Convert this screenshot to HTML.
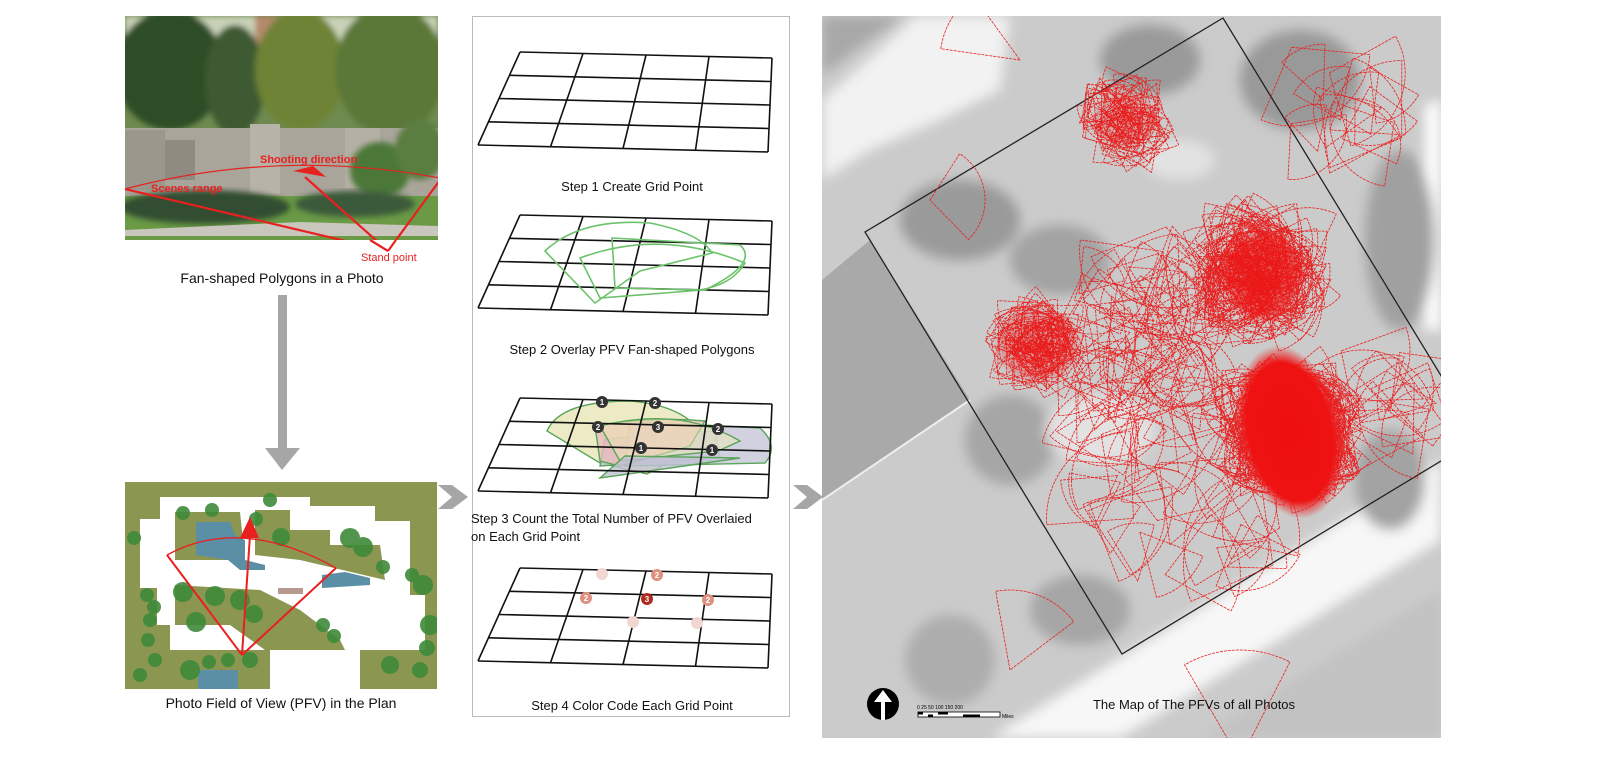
<!DOCTYPE html>
<html><head><meta charset="utf-8"><style>
html,body{margin:0;padding:0;background:#fff;}
svg{display:block;font-family:"Liberation Sans",Arial,sans-serif;}
</style></head><body>
<svg id="S" width="1600" height="780" viewBox="0 0 1600 780" xmlns="http://www.w3.org/2000/svg">
<defs>
<g id="grid" stroke="#111" stroke-width="1.6" fill="none">
<line x1="520" y1="52" x2="772" y2="58"/>
<line x1="509.5" y1="75.3" x2="771" y2="81.5"/>
<line x1="499" y1="98.5" x2="770" y2="105"/>
<line x1="488.5" y1="121.8" x2="769" y2="128.5"/>
<line x1="478" y1="145" x2="768" y2="152"/>
<line x1="520" y1="52" x2="478" y2="145"/>
<line x1="583" y1="53.5" x2="550.5" y2="146.8"/>
<line x1="646" y1="55" x2="623" y2="148.5"/>
<line x1="709" y1="56.5" x2="695.5" y2="150.3"/>
<line x1="772" y1="58" x2="768" y2="152"/>
</g>
<radialGradient id="hot" cx="0.5" cy="0.5" r="0.5">
<stop offset="0" stop-color="#ee1010"/><stop offset="0.8" stop-color="#ee1212"/><stop offset="1" stop-color="#ee2020" stop-opacity="0"/>
</radialGradient>
<filter id="blur" x="-20%" y="-20%" width="140%" height="140%"><feGaussianBlur stdDeviation="6"/></filter>
<filter id="blur2"><feGaussianBlur stdDeviation="3"/></filter>
<clipPath id="mapclip"><rect x="822" y="16" width="619" height="722"/></clipPath>
<clipPath id="planclip"><rect x="125" y="482" width="312" height="207"/></clipPath>
<clipPath id="photoclip"><rect x="125" y="16" width="313" height="224"/></clipPath>
</defs>

<!-- Photo -->
<g clip-path="url(#photoclip)">
<rect x="125" y="16" width="313" height="224" fill="#6f8a50"/>
<g filter="url(#blur2)">
<rect x="125" y="16" width="313" height="40" fill="#c9d2b8"/>
<rect x="255" y="16" width="30" height="60" fill="#b58a6c"/>
<ellipse cx="170" cy="70" rx="55" ry="60" fill="#2f4d26"/>
<ellipse cx="235" cy="80" rx="30" ry="55" fill="#3d5a30"/>
<ellipse cx="300" cy="70" rx="45" ry="60" fill="#6e8336"/>
<ellipse cx="390" cy="70" rx="55" ry="65" fill="#5c7838"/>
</g>
<rect x="125" y="128" width="313" height="68" fill="#a9a59a"/>
<rect x="125" y="130" width="40" height="60" fill="#9b978c"/>
<rect x="165" y="140" width="30" height="40" fill="#8f8b80"/>
<rect x="250" y="124" width="30" height="70" fill="#b8b3a8"/>
<rect x="345" y="128" width="35" height="60" fill="#b5b0a5"/>
<ellipse cx="380" cy="170" rx="30" ry="28" fill="#4c7838" filter="url(#blur2)"/>
<ellipse cx="420" cy="150" rx="25" ry="30" fill="#5a7d40" filter="url(#blur2)"/>
<rect x="125" y="196" width="313" height="44" fill="#6a9a45"/>
<ellipse cx="205" cy="207" rx="85" ry="17" fill="#314d33" filter="url(#blur2)"/>
<ellipse cx="355" cy="204" rx="60" ry="13" fill="#3a5a3a" filter="url(#blur2)"/>
<path d="M125 230 L300 222 L438 226 L438 236 L125 236Z" fill="#c9c6bd"/>
<g stroke="#e82020" stroke-width="2.2" fill="none">
<line x1="125" y1="189" x2="388" y2="251"/>
<line x1="440" y1="180" x2="388" y2="251"/>
<line x1="388" y1="251" x2="305" y2="177"/>
<path d="M125 189 Q280 148 440 178" stroke-width="1.2"/>
</g>
<path d="M293 171 L313 166 L326 177Z" fill="#e82020"/>
<text x="260" y="163" font-size="11" font-weight="bold" fill="#e82020">Shooting direction</text>
<text x="151" y="192" font-size="11" font-weight="bold" fill="#e82020">Scenes range</text>
</g>
<line x1="370" y1="240" x2="388" y2="251" stroke="#e82020" stroke-width="2.2"/>
<line x1="396" y1="240" x2="388" y2="251" stroke="#e82020" stroke-width="2.2"/>
<text x="361" y="261" font-size="11" fill="#e82020">Stand point</text>
<text x="282" y="283" font-size="14" text-anchor="middle" fill="#111">Fan-shaped Polygons in a Photo</text>

<!-- down arrow -->
<rect x="278" y="295" width="9" height="155" fill="#a6a6a6"/>
<path d="M265 448 L300 448 L282 470Z" fill="#a6a6a6"/>

<!-- Plan -->
<g clip-path="url(#planclip)">
<rect x="125" y="482" width="312" height="207" fill="#8b9650"/>
<path d="M160 497 L310 497 L310 506 L375 506 L375 521 L410 521 L410 595 L425 595 L425 650 L360 650 L360 689 L265 689 L265 650 L170 650 L170 625 L157 625 L157 588 L140 588 L140 519 L160 519Z" fill="#fff"/>
<path d="M175 512 L240 512 L245 560 L175 560Z" fill="#8b9650"/>
<path d="M255 510 L290 510 L290 530 L330 530 L330 545 L380 545 L385 580 L300 560 L255 555Z" fill="#8b9650"/>
<path d="M175 585 L260 590 L300 610 L340 640 L345 650 L265 650 L230 625 L175 625Z" fill="#8b9650"/>
<path d="M172 650 L270 650 L270 689 L172 689Z" fill="#8b9650"/>
<path d="M196 522 L230 522 L235 535 L245 540 L245 560 L265 565 L265 570 L240 570 L228 560 L196 555Z" fill="#5b8fa5"/>
<path d="M322 575 L345 572 L370 578 L370 585 L322 588Z" fill="#5b8fa5"/>
<rect x="198" y="670" width="40" height="19" fill="#5b8fa5"/>
<rect x="278" y="588" width="25" height="6" fill="#b79a8e"/>
<g fill="#3f8a3a" opacity="0.9">
<circle cx="183" cy="513" r="7"/><circle cx="212" cy="510" r="7"/><circle cx="256" cy="519" r="7"/><circle cx="270" cy="500" r="7"/>
<circle cx="281" cy="537" r="9"/><circle cx="350" cy="538" r="10"/><circle cx="363" cy="547" r="10"/><circle cx="383" cy="567" r="7"/>
<circle cx="134" cy="538" r="7"/><circle cx="147" cy="595" r="7"/><circle cx="154" cy="607" r="7"/><circle cx="150" cy="620" r="7"/><circle cx="148" cy="640" r="7"/><circle cx="155" cy="660" r="7"/><circle cx="140" cy="675" r="7"/>
<circle cx="183" cy="592" r="10"/><circle cx="196" cy="622" r="10"/><circle cx="215" cy="596" r="10"/><circle cx="240" cy="600" r="10"/><circle cx="254" cy="614" r="9"/>
<circle cx="323" cy="625" r="7"/><circle cx="334" cy="636" r="7"/><circle cx="423" cy="585" r="10"/><circle cx="430" cy="625" r="10"/><circle cx="427" cy="648" r="8"/><circle cx="420" cy="670" r="8"/><circle cx="390" cy="665" r="9"/>
<circle cx="190" cy="670" r="10"/><circle cx="209" cy="662" r="7"/><circle cx="228" cy="660" r="7"/><circle cx="250" cy="660" r="8"/>
<circle cx="412" cy="575" r="7"/>
</g>
<g stroke="#e82020" stroke-width="2" fill="none">
<line x1="242" y1="655" x2="167" y2="555"/>
<line x1="242" y1="655" x2="336" y2="568"/>
<line x1="242" y1="655" x2="250" y2="535"/>
<path d="M167 555 Q240 515 336 568" stroke-width="1.4"/>
</g>
<path d="M240 538 L250 517 L259 538Z" fill="#e82020"/>
</g>
<text x="281" y="708" font-size="14" text-anchor="middle" fill="#111">Photo Field of View (PFV) in the Plan</text>

<!-- right arrows -->
<path d="M438 485 L452 485 L468 497 L452 509 L438 509 L452 497Z" fill="#a6a6a6"/>
<path d="M793 485 L807 485 L823 497 L807 509 L793 509 L807 497Z" fill="#a6a6a6"/>

<!-- Middle panel -->
<rect x="472.5" y="16.5" width="317" height="700" fill="#fff" stroke="#bbb" stroke-width="1"/>
<use href="#grid"/>
<text x="632" y="191" font-size="13" text-anchor="middle" fill="#111">Step 1 Create Grid Point</text>

<g transform="translate(0,163)">
<use href="#grid"/>
<g fill="none" stroke="#6cc36c" stroke-width="1.6">
<path d="M545 88 Q580 55 650 60 Q700 70 712 90 L640 108 L595 140 Z"/>
<path d="M612 75 L740 82 Q760 100 705 127 L615 125 Z"/>
<path d="M580 95 Q660 65 745 100 Q730 125 690 128 L600 135 Z"/>
</g>
</g>
<text x="632" y="354" font-size="13" text-anchor="middle" fill="#111">Step 2 Overlay PFV Fan-shaped Polygons</text>

<g transform="translate(0,346)">
<g stroke="#5aa55a" stroke-width="1.4">
<path d="M547 85 Q560 55 630 55 Q690 60 706 95 L647 128 L600 117 Z" fill="#e8e6b8" fill-opacity="0.8"/>
<path d="M605 93 L715 85 L720 112 L600 120 Z" fill="#c9c9d9" fill-opacity="0.9"/>
<path d="M630 75 L760 82 Q780 100 765 117 L625 120 Z" fill="#c9c9d9" fill-opacity="0.85"/>
<path d="M595 80 Q650 70 705 75 L690 100 L620 120 L600 115 Z" fill="#e8bcbc" fill-opacity="0.8"/>
<path d="M600 80 Q680 60 740 95 L718 105 L620 115 Z" fill="#f0e9b5" fill-opacity="0.5"/>
<path d="M625 110 L740 112 L600 132 Z" fill="#c0c0d3" fill-opacity="0.8"/>
</g>
<use href="#grid"/>
<g fill="#333"><circle cx="602" cy="56" r="6"/><circle cx="655" cy="57" r="6"/><circle cx="598" cy="81" r="6"/><circle cx="658" cy="81" r="6"/><circle cx="718" cy="83" r="6"/><circle cx="641" cy="102" r="6"/><circle cx="712" cy="104" r="6"/></g>
<g fill="#fff" font-size="8" text-anchor="middle" font-weight="bold"><text x="602" y="59">1</text><text x="655" y="60">2</text><text x="598" y="84">2</text><text x="658" y="84">3</text><text x="718" y="86">2</text><text x="641" y="105">1</text><text x="712" y="107">1</text></g>
</g>
<text x="471" y="523" font-size="13" fill="#111">Step 3 Count the Total Number of PFV Overlaied</text>
<text x="471" y="541" font-size="13" fill="#111">on Each Grid Point</text>

<g transform="translate(0,516)">
<use href="#grid"/>
<circle cx="602" cy="58" r="6" fill="#f2d6d2"/>
<circle cx="657" cy="59" r="6" fill="#e0907f"/>
<circle cx="586" cy="82" r="6" fill="#e0907f"/>
<circle cx="647" cy="83" r="6" fill="#b02a1f"/>
<circle cx="708" cy="84" r="6" fill="#e0907f"/>
<circle cx="633" cy="106" r="6" fill="#f2d6d2"/>
<circle cx="697" cy="107" r="6" fill="#f2d6d2"/>
<g fill="#fff" font-size="8" text-anchor="middle" font-weight="bold"><text x="657" y="62">2</text><text x="586" y="85">2</text><text x="647" y="86">3</text><text x="708" y="87">2</text></g>
</g>
<text x="632" y="710" font-size="13" text-anchor="middle" fill="#111">Step 4 Color Code Each Grid Point</text>

<!-- Map -->
<g clip-path="url(#mapclip)">
<rect x="822" y="16" width="619" height="722" fill="#cbcbcb"/>
<g filter="url(#blur)">
<path d="M822 100 Q880 50 915 16 L1010 16 L1000 90 L940 120 L870 150 L822 180Z" fill="#f2f2f2"/>
<path d="M822 16 L905 16 Q860 45 830 70 L822 75Z" fill="#a8a8a8"/>
<path d="M1425 105 L1441 100 L1441 330 L1425 330Z" fill="#fff"/>
<path d="M1441 460 L1441 540 L1120 738 L990 738 Z" fill="#f7f7f7"/>
<path d="M1441 590 L1441 738 L1200 738 Z" fill="#c2c2c2"/>
<ellipse cx="1150" cy="60" rx="50" ry="35" fill="#9a9a9a"/>
<ellipse cx="1300" cy="80" rx="60" ry="50" fill="#999"/>
<ellipse cx="1400" cy="240" rx="35" ry="90" fill="#a0a0a0"/>
<ellipse cx="960" cy="220" rx="60" ry="40" fill="#9a9a9a"/>
<ellipse cx="1060" cy="260" rx="50" ry="35" fill="#a3a3a3"/>
<ellipse cx="1010" cy="440" rx="45" ry="45" fill="#a6a6a6"/>
<ellipse cx="1080" cy="610" rx="50" ry="35" fill="#a6a6a6"/>
<ellipse cx="950" cy="660" rx="45" ry="45" fill="#adadad"/>
<ellipse cx="1390" cy="480" rx="35" ry="50" fill="#a3a3a3"/>
<ellipse cx="1100" cy="430" rx="55" ry="35" fill="#e2e2e2"/>
<ellipse cx="1180" cy="160" rx="35" ry="20" fill="#e2e2e2"/>
</g>
<path d="M822 280 L870 240 L970 400 L822 500Z" fill="#a9a9a9"/>
<path d="M822 500 L970 400" stroke="#eee" stroke-width="2"/>
<g fill="none" stroke="#222" stroke-width="1.3">
<path d="M865 232 L1223 18 L1479 438 L1122 654 Z"/>
</g>
<g id="fans" fill="none" stroke="#e82020" stroke-width="0.8" stroke-dasharray="3,1"></g>
<ellipse cx="1290" cy="432" rx="52" ry="88" fill="url(#hot)" transform="rotate(-12 1290 432)"/>
<ellipse cx="1262" cy="275" rx="42" ry="48" fill="url(#hot)" opacity="0.55"/>
<ellipse cx="1038" cy="345" rx="45" ry="40" fill="url(#hot)" opacity="0.25"/>
<ellipse cx="1125" cy="120" rx="35" ry="28" fill="url(#hot)" opacity="0.2"/>
<circle cx="883" cy="704" r="16" fill="#000"/>
<path d="M883 690 L874 702 L881 702 L881 720 L885 720 L885 702 L892 702Z" fill="#fff"/>
<rect x="918" y="712" width="82" height="5" fill="#fff" stroke="#000" stroke-width="0.8"/>
<rect x="918" y="712" width="5" height="2.5" fill="#000"/><rect x="928" y="714.5" width="5" height="2.5" fill="#000"/><rect x="938" y="712" width="10" height="2.5" fill="#000"/><rect x="963" y="714.5" width="17" height="2.5" fill="#000"/>
<text x="917" y="709" font-size="5">0  25 50    100    150    200</text>
<text x="1002" y="718" font-size="5">Miles</text>
</g>
<text x="1194" y="709" font-size="13" text-anchor="middle" fill="#111">The Map of The PFVs of all Photos</text>
</svg>
<script>
(function(){
var s=12345;function r(){s=(s*1103515245+12345)%2147483648;return s/2147483648;}
var g=document.getElementById('fans');var out='';
function fan(x,y,R,th,a){var x1=x+R*Math.cos(th-a),y1=y+R*Math.sin(th-a),x2=x+R*Math.cos(th+a),y2=y+R*Math.sin(th+a);
out+='<path d="M'+x.toFixed(1)+' '+y.toFixed(1)+' L'+x1.toFixed(1)+' '+y1.toFixed(1)+' A'+R.toFixed(1)+' '+R.toFixed(1)+' 0 0 1 '+x2.toFixed(1)+' '+y2.toFixed(1)+' Z"/>';}
function cl(cx,cy,sp,n,r0,r1){for(var i=0;i<n;i++){var R=r0+r()*(r1-r0),th=r()*6.283,a=0.4+r()*0.6;
var px=cx+(r()-0.5)*2*sp-R*0.6*Math.cos(th),py=cy+(r()-0.5)*2*sp-R*0.6*Math.sin(th);fan(px,py,R,th,a);}}
cl(1125,120,25,55,30,55);
cl(1038,345,22,70,30,55);
cl(1262,275,38,150,40,70);
cl(1290,432,38,320,35,65);
cl(1150,330,60,60,45,85);
cl(1170,480,90,45,50,90);
cl(1350,110,45,15,45,80);
cl(1400,400,35,15,40,75);
fan(1010,670,80,-1.2,0.55);
fan(930,200,55,-0.1,0.9);
fan(1020,60,80,-2.6,0.4);
fan(1240,760,110,-1.6,0.5);
g.innerHTML=out;
})();
</script>
</body></html>
